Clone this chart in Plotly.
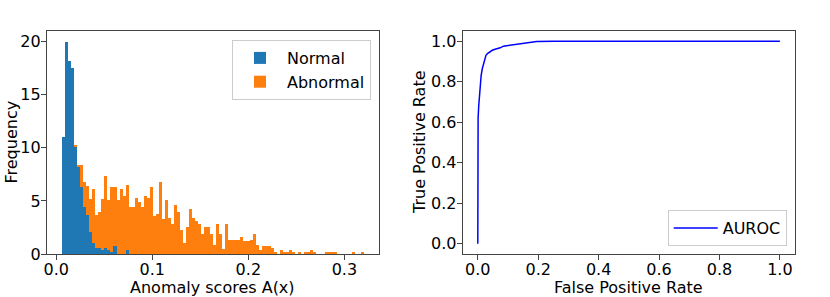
import numpy as np
import plotly.graph_objects as go

# ---------------- data ----------------
score_min = 0.0059
score_max = 0.3208
n_bins = 100

normal_counts = [11.0, 20.0, 18.2, 17.5, 10.1, 8.2, 6.3, 4.4, 3.7, 2.05,
                 1.0, 0.57, 0.57, 0.38, 0.57, 0.38, 0.19, 0.76, 0, 0,
                 0, 0.38] + [0] * 78

abnormal_counts = [0, 0, 0, 0, 10.3, 8.4, 8.4, 6.8, 6.4, 5.2,
                   6.1, 3.7, 4.0, 5.2, 7.3, 5.1, 6.3, 6.3, 5.1, 6.1,
                   5.5, 6.5, 4.4, 4.4, 5.3, 4.9, 4.4, 5.5, 5.3, 6.3,
                   3.6, 3.8, 6.8, 3.3, 5.1, 3.4, 2.8, 4.65, 4.0, 2.3,
                   1.0, 2.5, 4.2, 3.4, 3.1, 2.8, 1.9, 2.5, 2.5, 1.9,
                   0.85, 2.8, 1.9, 0.44, 2.8, 1.3, 1.3, 1.3, 1.3, 1.64,
                   1.23, 1.23, 1.3, 1.9, 0.85, 0.38, 0.76, 0.76, 0.76, 0.57,
                   0.19, 0, 0.38, 0.19, 0.19, 0.38, 0.19, 0, 0.19, 0,
                   0.19, 0.19, 0.38, 0.19, 0, 0, 0, 0.19, 0.19, 0.19,
                   0.19, 0, 0, 0, 0, 0, 0.19, 0, 0, 0.19]

fpr = [0, 0, 0.001, 0.003, 0.005, 0.008, 0.011, 0.015, 0.019, 0.023, 0.027,
       0.033, 0.041, 0.048, 0.057, 0.066, 0.074, 0.085, 0.1, 0.118, 0.135,
       0.151, 0.165, 0.179, 0.195, 0.25, 0.28, 1.0]
tpr = [0, 0.45, 0.62, 0.68, 0.73, 0.79, 0.83, 0.865, 0.89, 0.91, 0.93,
       0.94, 0.95, 0.955, 0.96, 0.962, 0.967, 0.975, 0.978, 0.984, 0.986,
       0.989, 0.993, 0.996, 0.998, 0.999, 1.0, 1.0]

hist_xticks = [0.0, 0.1, 0.2, 0.3]
hist_yticks = [0, 5, 10, 15, 20]
roc_ticks = [0.0, 0.2, 0.4, 0.6, 0.8, 1.0]

# ---------------- figure ----------------
edges = np.linspace(score_min, score_max, n_bins + 1)
centers = (edges[:-1] + edges[1:]) / 2
bw = edges[1] - edges[0]

FONT = "DejaVu Sans"
W, H = 830, 297

fig = go.Figure()
fig.add_trace(go.Bar(x=centers, y=abnormal_counts, width=bw, name="Abnormal",
                     marker=dict(color="#ff7f0e", line=dict(width=0)),
                     legendrank=2, xaxis="x", yaxis="y", legend="legend"))
fig.add_trace(go.Bar(x=centers, y=normal_counts, width=bw, name="Normal",
                     marker=dict(color="#1f77b4", line=dict(width=0)),
                     legendrank=1, xaxis="x", yaxis="y", legend="legend"))
fig.add_trace(go.Scatter(x=fpr, y=tpr, mode="lines", name="AUROC",
                         line=dict(color="#0000ff", width=1.5),
                         xaxis="x2", yaxis="y2", legend="legend2"))


def px_x(p):
    return p / W


def px_y(p):
    return 1 - p / H


axis_common = dict(showgrid=False, zeroline=False, showline=True, mirror=True,
                   linecolor="#444", linewidth=1, ticks="outside", ticklen=5,
                   tickwidth=1, tickcolor="#444",
                   tickfont=dict(family=FONT, size=16, color="black"),
                   automargin=False)

ann_common = dict(xref="paper", yref="paper", showarrow=False,
                  xanchor="center", yanchor="middle",
                  font=dict(family=FONT, size=16, color="black"))

legend_common = dict(bordercolor="#cccccc", borderwidth=1,
                     bgcolor="rgba(255,255,255,0.8)", itemwidth=44,
                     font=dict(family=FONT, size=16, color="black"))

fig.update_layout(
    width=W, height=H,
    margin=dict(l=0, r=0, t=0, b=0),
    paper_bgcolor="white", plot_bgcolor="white",
    barmode="overlay", bargap=0,
    font=dict(family=FONT, size=16, color="black"),
    xaxis=dict(domain=[px_x(46.9), px_x(379.4)], range=[-0.0098, 0.3365],
               tickvals=hist_xticks, ticktext=[f"{v:.1f}" for v in hist_xticks],
               anchor="y", ticklabelstandoff=-4, **axis_common),
    yaxis=dict(domain=[px_y(254), px_y(31)], range=[0, 21],
               tickvals=hist_yticks, anchor="x", ticklabelstandoff=-3, **axis_common),
    xaxis2=dict(domain=[px_x(462.7), px_x(795)], range=[-0.05, 1.05],
                tickvals=roc_ticks, ticktext=[f"{v:.1f}" for v in roc_ticks],
                anchor="y2", ticklabelstandoff=-4, **axis_common),
    yaxis2=dict(domain=[px_y(254), px_y(31)], range=[-0.05, 1.05],
                tickvals=roc_ticks, ticktext=[f"{v:.1f}" for v in roc_ticks],
                anchor="x2", ticklabelstandoff=-3, **axis_common),
    legend=dict(x=px_x(371), y=px_y(40), xanchor="right", yanchor="top",
                traceorder="normal", **legend_common),
    legend2=dict(x=px_x(786.7), y=px_y(246), xanchor="right", yanchor="bottom",
                 **legend_common),
    showlegend=True,
    annotations=[
        dict(text="Frequency", x=px_x(11), y=px_y(142.5), textangle=-90, **ann_common),
        dict(text="True Positive Rate", x=px_x(419.5), y=px_y(142.5), textangle=-90,
             **ann_common),
        dict(text="Anomaly scores A(x)", x=px_x(213), y=px_y(287.5), **ann_common),
        dict(text="False Positive Rate", x=px_x(628.9), y=px_y(287), **ann_common),
    ],
)

fig.write_html("out.html",
               config={"displayModeBar": False},
               post_script="document.body.style.margin='0';document.body.style.overflow='hidden';")
